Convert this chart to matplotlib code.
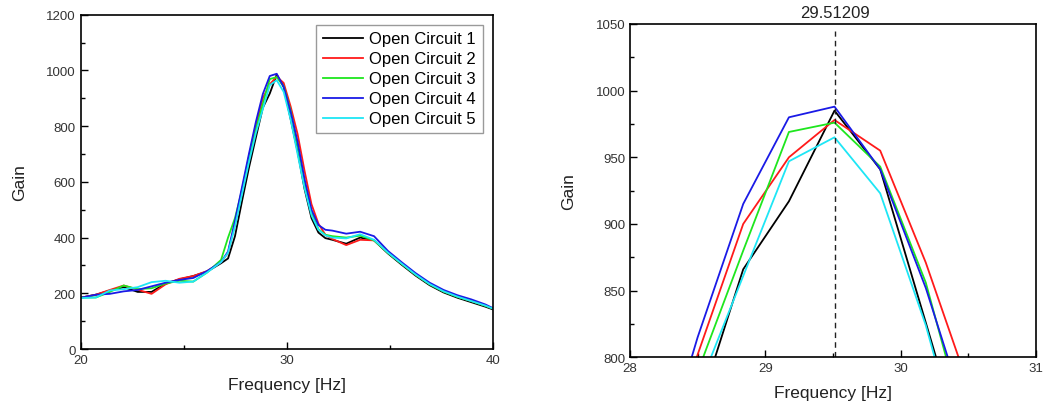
import matplotlib
matplotlib.use("Agg")
import matplotlib.pyplot as plt
from matplotlib.ticker import MultipleLocator

plt.rcParams["font.family"] = ["Liberation Sans", "DejaVu Sans"]

# frequency grid [Hz] (shared by all five runs)
freq = [20.062, 20.737, 21.412, 22.087, 22.762, 23.437, 24.112, 24.787, 25.462,
        26.137, 26.812, 27.150, 27.487, 27.825, 28.162, 28.500, 28.837, 29.175,
        29.512, 29.850, 30.187, 30.525, 30.862, 31.200, 31.537, 31.875, 32.212,
        32.887, 33.562, 34.237, 34.912, 35.587, 36.262, 36.937, 37.612, 38.287,
        38.962, 39.637, 39.975]

oc1 = [185, 195, 210, 222, 205, 205, 235, 250, 262,
       278, 308, 325, 405, 530, 650, 759, 866, 917,
       985, 941, 826, 710, 575, 470, 418, 398, 392,
       378, 400, 390, 343, 302, 263, 229, 203, 184,
       168, 152, 143]
oc2 = [185, 195, 212, 228, 213, 198, 232, 252, 262,
       280, 312, 345, 450, 570, 690, 802, 900, 950,
       978, 955, 871, 772, 640, 520, 450, 410, 395,
       373, 392, 390, 346, 306, 267, 233, 207, 188,
       172, 156, 146]
oc3 = [185, 185, 205, 228, 215, 218, 235, 245, 242,
       275, 320, 400, 470, 570, 680, 789, 880, 969,
       976, 943, 856, 730, 600, 490, 430, 410, 405,
       400, 407, 390, 345, 305, 266, 232, 206, 187,
       172, 155, 146]
oc4 = [185, 195, 198, 207, 212, 225, 238, 248, 255,
       280, 312, 350, 460, 580, 700, 815, 915, 980,
       988, 941, 852, 744, 610, 500, 445, 428, 425,
       414, 421, 405, 352, 311, 272, 238, 212, 193,
       178, 160, 148]
oc5 = [183, 185, 210, 215, 222, 240, 245, 238, 242,
       275, 312, 345, 440, 555, 670, 775, 861, 947,
       965, 923, 824, 700, 578, 480, 428, 408, 400,
       397, 412, 392, 346, 306, 267, 233, 207, 188,
       172, 156, 146]

peak_freq = 29.51209
labels = ["Open Circuit 1", "Open Circuit 2", "Open Circuit 3",
          "Open Circuit 4", "Open Circuit 5"]
colors = ["#000000", "#ff1a1a", "#1ee61e", "#1a1ae6", "#1ee6f5"]
runs = [oc1, oc2, oc3, oc4, oc5]

TICK_C = "#333333"


def style(ax):
    for s in ax.spines.values():
        s.set_linewidth(1.2)
    ax.tick_params(which="both", direction="in", top=False, right=False,
                   labelsize=9.5, labelcolor=TICK_C, width=1.0)
    ax.tick_params(which="major", length=5)
    ax.tick_params(which="minor", length=3)
    ax.set_xlabel("Frequency [Hz]", fontsize=12.5, color="#222222", labelpad=8)
    ax.set_ylabel("Gain", fontsize=12.5, color="#222222", labelpad=14)


fig = plt.figure(figsize=(10.46, 4.10), dpi=100)

# ---- left: full sweep ---------------------------------------------------
ax1 = fig.add_axes([0.0772, 0.1463, 0.3939, 0.8154])
for y, c, lab in zip(runs, colors, labels):
    ax1.plot(freq, y, color=c, lw=1.3, label=lab)
ax1.set_xlim(20, 40)
ax1.set_ylim(0, 1200)
ax1.xaxis.set_major_locator(MultipleLocator(10))
ax1.xaxis.set_minor_locator(MultipleLocator(5))
ax1.yaxis.set_major_locator(MultipleLocator(200))
ax1.yaxis.set_minor_locator(MultipleLocator(100))
style(ax1)
leg = ax1.legend(loc="upper right", fontsize=12, handlelength=2.4,
                 fancybox=False, framealpha=1, edgecolor="#9a9a9a",
                 borderaxespad=0.6, labelspacing=0.3, handletextpad=0.4,
                 borderpad=0.4)
leg.get_frame().set_linewidth(1.0)

# ---- right: zoom on the resonance peak ---------------------------------
ax2 = fig.add_axes([0.6023, 0.1261, 0.3879, 0.8130])
for y, c in zip(runs, colors):
    ax2.plot(freq, y, color=c, lw=1.3)
ax2.vlines(peak_freq, 800, 1045, colors="#222222", linestyles=(0, (4, 3)), lw=1.0)
ax2.set_xlim(28, 31)
ax2.set_ylim(800, 1050)
ax2.xaxis.set_major_locator(MultipleLocator(1))
ax2.xaxis.set_minor_locator(MultipleLocator(0.5))
ax2.yaxis.set_major_locator(MultipleLocator(50))
ax2.yaxis.set_minor_locator(MultipleLocator(25))
style(ax2)
ax2.text(peak_freq, 1053, f"{peak_freq:.5f}", ha="center", va="bottom",
         fontsize=12, color="#222222")

fig.savefig("out.png", dpi=100)
